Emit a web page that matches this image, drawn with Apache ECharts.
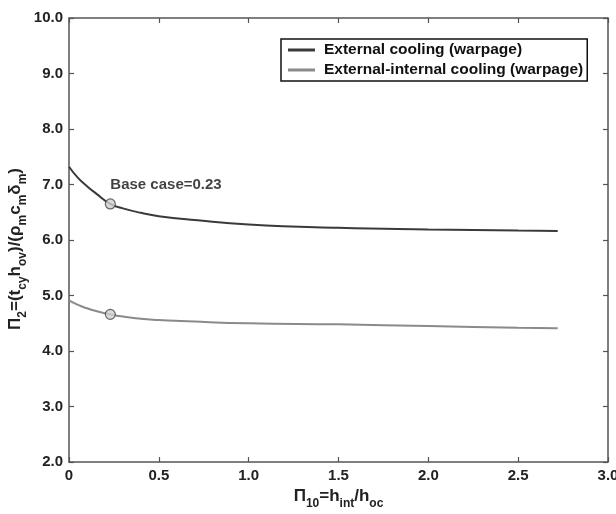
<!DOCTYPE html>
<html>
<head>
<meta charset="utf-8">
<script src="https://cdn.jsdelivr.net/npm/echarts@6/dist/echarts.min.js"></script>
<style>
  html, body { margin: 0; padding: 0; background: #fff; }
  #chart { width: 616px; height: 514px; }
</style>
</head>
<body>
<div id="chart"></div>
<script>
// ratio h_int/h_oc
var xVals = [0, 0.05, 0.1, 0.15, 0.23, 0.3, 0.4, 0.5, 0.7, 1.0, 1.5, 2.0, 2.5, 2.72];
// external cooling (warpage)
var extCooling = [7.32, 7.12, 6.97, 6.84, 6.65, 6.57, 6.49, 6.43, 6.36, 6.28, 6.22, 6.19, 6.17, 6.16];
// external-internal cooling (warpage)
var extIntCooling = [4.91, 4.83, 4.77, 4.72, 4.66, 4.62, 4.58, 4.56, 4.53, 4.50, 4.48, 4.45, 4.42, 4.41];
var baseCase = 0.23;
var baseExt = 6.65;
var baseExtInt = 4.66;
var seriesNames = ['External cooling (warpage)', 'External-internal cooling (warpage)'];

function pairs(xs, ys){
	var out = [];
	for(var i=0;i<xs.length;i++){
		out.push([xs[i], ys[i]]);
	}
	return out;
}

var font = 'Liberation Sans';
var axisCol = '#555';
function tickStyle(){
	return { show: true, inside: true, length: 5, lineStyle: { color: axisCol, width: 1.2 } };
}
function lineStyle(){
	return { onZero: false, lineStyle: { color: axisCol, width: 1.5 } };
}
function nameRich(){
	return {
		b: { fontFamily: font, fontWeight: 'bold', fontSize: 17, color: '#222', lineHeight: 22, verticalAlign: 'top' },
		s: { fontFamily: font, fontWeight: 'bold', fontSize: 12, color: '#222', lineHeight: 22, verticalAlign: 'bottom', padding: [8, 0, 0, 0] }
	};
}

var myChart = echarts.init(document.getElementById('chart'));
var option = {
	backgroundColor: '#fff',
	animation: false,
	textStyle: { fontFamily: font },
	grid: { left: 69, right: 8, top: 18, bottom: 52, containLabel: false, outerBoundsMode: 'none' },
	legend: {
		data: seriesNames,
		orient: 'vertical',
		left: 281,
		top: 39,
		padding: [3, 4, 3, 7],
		itemGap: 4,
		itemWidth: 27,
		itemHeight: 3,
		icon: 'rect',
		borderColor: '#111',
		borderWidth: 1.5,
		textStyle: { fontFamily: font, fontWeight: 'bold', fontSize: 15.5, color: '#111', padding: [0, 0, 0, 4] }
	},
	xAxis: [{
		type: 'value', min: 0, max: 3, interval: 0.5,
		name: '{b|Π}{s|10}{b|=h}{s|int}{b|/h}{s|oc}',
		nameLocation: 'middle', nameGap: 26, nameMoveOverlap: false,
		nameTextStyle: { rich: nameRich() },
		axisLine: lineStyle(),
		axisTick: tickStyle(),
		axisLabel: {
			fontFamily: font, fontWeight: 'bold', fontSize: 15, color: '#222', margin: 6,
			formatter: function(v){ return v === 0 ? '0' : v.toFixed(1); }
		},
		splitLine: { show: false }
	},{
		type: 'value', min: 0, max: 3, interval: 0.5, position: 'top',
		axisLine: lineStyle(),
		axisTick: tickStyle(),
		axisLabel: { show: false },
		splitLine: { show: false }
	}],
	yAxis: [{
		type: 'value', min: 2, max: 10, interval: 1,
		name: '{b|Π}{s|2}{b|=(t}{s|cy}{b|h}{s|ov}{b|)/(ρ}{s|m}{b|c}{s|m}{b|δ}{s|m}{b|)}',
		nameLocation: 'middle', nameGap: 40, nameRotate: 90, nameMoveOverlap: false,
		nameTextStyle: { rich: nameRich(), padding: [0, 18, 0, 0] },
		axisLine: lineStyle(),
		axisTick: tickStyle(),
		axisLabel: {
			fontFamily: font, fontWeight: 'bold', fontSize: 15, color: '#222', margin: 6,
			formatter: function(v){ return v.toFixed(1); }
		},
		splitLine: { show: false }
	},{
		type: 'value', min: 2, max: 10, interval: 1, position: 'right',
		axisLine: lineStyle(),
		axisTick: tickStyle(),
		axisLabel: { show: false },
		splitLine: { show: false }
	}],
	series: [
		{
			name: seriesNames[0],
			type: 'line',
			data: pairs(xVals, extCooling),
			smooth: true,
			showSymbol: false,
			color: '#3a3a3a',
			lineStyle: { color: '#3a3a3a', width: 2 }
		},{
			name: seriesNames[1],
			type: 'line',
			data: pairs(xVals, extIntCooling),
			smooth: true,
			showSymbol: false,
			color: '#8a8a8a',
			lineStyle: { color: '#8a8a8a', width: 2 }
		},{
			name: 'base',
			type: 'scatter',
			data: [[baseCase, baseExt], [baseCase, baseExtInt]],
			symbol: 'circle',
			symbolSize: 10,
			z: 5,
			itemStyle: { color: '#cfcfcf', borderColor: '#444', borderWidth: 1.2 },
			label: {
				show: true,
				position: 'top',
				align: 'left',
				distance: 6,
				fontFamily: font, fontWeight: 'bold', fontSize: 15, color: '#111',
				formatter: function(p){ return p.dataIndex === 0 ? 'Base case=' + baseCase : ''; }
			}
		}
	]
};
myChart.setOption(option);
</script>
</body>
</html>
